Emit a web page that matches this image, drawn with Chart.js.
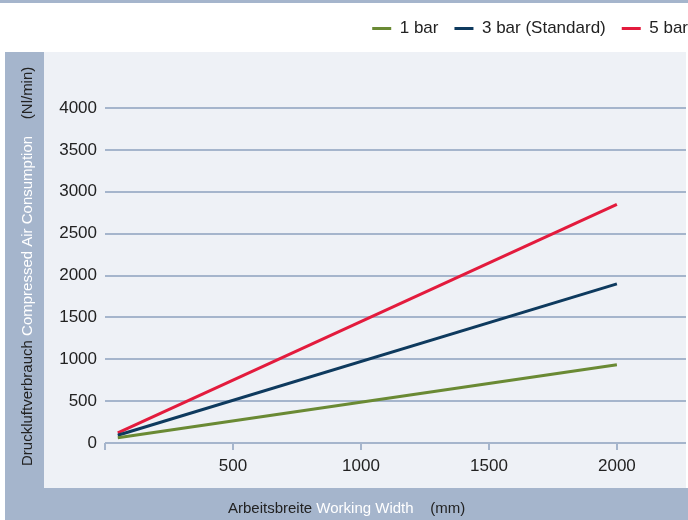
<!DOCTYPE html>
<html>
<head>
<meta charset="utf-8">
<script src="https://cdn.jsdelivr.net/npm/chart.js@4.4.1/dist/chart.umd.min.js"></script>
<style>
  html, body { margin: 0; padding: 0; background: #fff; }
  #wrap { width: 688px; height: 520px; }
</style>
</head>
<body>
<div id="wrap"><canvas id="myChart"></canvas></div>
<script>
// chart data
const widths = [50, 2000];          // Arbeitsbreite (mm)
const bar1 = [62, 935];             // 1 bar
const bar3 = [92, 1900];            // 3 bar (Standard)
const bar5 = [120, 2850];           // 5 bar
const seriesNames = ['1 bar', '3 bar (Standard)', '5 bar'];
const xTicks = [0, 500, 1000, 1500, 2000];
const yTicks = [0, 500, 1000, 1500, 2000, 2500, 3000, 3500, 4000];

const stripColor = '#a5b5cc';
const paneColor = '#eef1f6';
const gridColor = '#a5b5cc';
const fontName = "'Liberation Sans', Arial, sans-serif";

function toPoints(xs, ys) {
    return xs.map((x, i) => ({ x: x, y: ys[i] }));
}

// frame behind the chart + the two-colour axis titles
const frame = {
    id: 'frame',
    beforeDraw(chart) {
        const c = chart.ctx;
        c.save();
        c.fillStyle = '#fff';
        c.fillRect(0, 0, 688, 520);
        c.fillStyle = stripColor;
        c.fillRect(0, 0, 688, 3);
        c.fillRect(5, 52, 39, 468);
        c.fillRect(5, 488, 683, 32);
        c.fillStyle = paneColor;
        c.fillRect(44, 52, 642, 436);
        c.restore();
    },
    afterDraw(chart) {
        const c = chart.ctx;
        c.save();
        c.font = '15px ' + fontName;
        c.textBaseline = 'alphabetic';
        c.textAlign = 'left';

        // x title
        let parts = [['Arbeitsbreite ', '#222'], ['Working Width', '#fff'], ['    (mm)', '#222']];
        let x = 228;
        parts.forEach(p => {
            c.fillStyle = p[1];
            c.fillText(p[0], x, 513);
            x += c.measureText(p[0]).width;
        });

        // y title, rotated
        c.translate(32, 466);
        c.rotate(-Math.PI / 2);
        parts = [['Druckluftverbrauch ', '#222'], ['Compressed Air Consumption', '#fff'], ['    (Nl/min)', '#222']];
        x = 0;
        parts.forEach(p => {
            c.fillStyle = p[1];
            c.fillText(p[0], x, 0);
            x += c.measureText(p[0]).width;
        });
        c.restore();
    }
};

// extra room under the legend, and push it to the right edge
const legendSpacer = {
    id: 'legendSpacer',
    beforeInit(chart) {
        const fit = chart.legend.fit;
        chart.legend.fit = function () {
            fit.bind(chart.legend)();
            this.height = 104;
        };
    },
    afterLayout(chart) {
        chart.legend.right += 18;
    }
};

const ctx = document.getElementById('myChart');

const myLineChart = new Chart(ctx, {
    type: 'line',
    data: {
        datasets: [
            { label: seriesNames[0], data: toPoints(widths, bar1), borderColor: '#6a8a34', backgroundColor: '#6a8a34' },
            { label: seriesNames[1], data: toPoints(widths, bar3), borderColor: '#0e3a5e', backgroundColor: '#0e3a5e' },
            { label: seriesNames[2], data: toPoints(widths, bar5), borderColor: '#e31b3d', backgroundColor: '#e31b3d' }
        ]
    },
    options: {
        responsive: true,
        maintainAspectRatio: false,
        animation: false,
        layout: { padding: { top: 4, left: 45, right: 2, bottom: 45 } },
        elements: {
            line: { borderWidth: 3, tension: 0 },
            point: { radius: 0 }
        },
        plugins: {
            tooltip: { enabled: false },
            legend: {
                position: 'top',
                align: 'end',
                labels: {
                    boxWidth: 19,
                    boxHeight: 3,
                    padding: 16,
                    color: '#222',
                    font: { family: fontName, size: 17 },
                    generateLabels(chart) {
                        const items = Chart.defaults.plugins.legend.labels.generateLabels(chart);
                        items.forEach(it => { it.lineWidth = 0; });
                        return items;
                    }
                }
            }
        },
        scales: {
            x: {
                type: 'linear',
                min: 0,
                max: 2270,
                border: { display: false },
                grid: { drawOnChartArea: false, color: gridColor, lineWidth: 2, tickLength: 7 },
                afterBuildTicks(scale) {
                    scale.ticks = xTicks.map(v => ({ value: v }));
                },
                ticks: {
                    padding: 6,
                    color: '#222',
                    font: { family: fontName, size: 17 },
                    callback: v => (v === 0 ? '' : String(v))
                },
                afterFit(scale) { scale.height = 32; }
            },
            y: {
                min: 0,
                max: yTicks[yTicks.length - 1],
                border: { display: false },
                grid: { color: gridColor, lineWidth: 2, drawTicks: false },
                afterBuildTicks(scale) {
                    scale.ticks = yTicks.map(v => ({ value: v }));
                },
                ticks: {
                    padding: 8,
                    color: '#222',
                    font: { family: fontName, size: 17 },
                    callback: v => String(v)
                },
                afterFit(scale) { scale.width = 60; }
            }
        }
    },
    plugins: [frame, legendSpacer]
});
</script>
</body>
</html>
